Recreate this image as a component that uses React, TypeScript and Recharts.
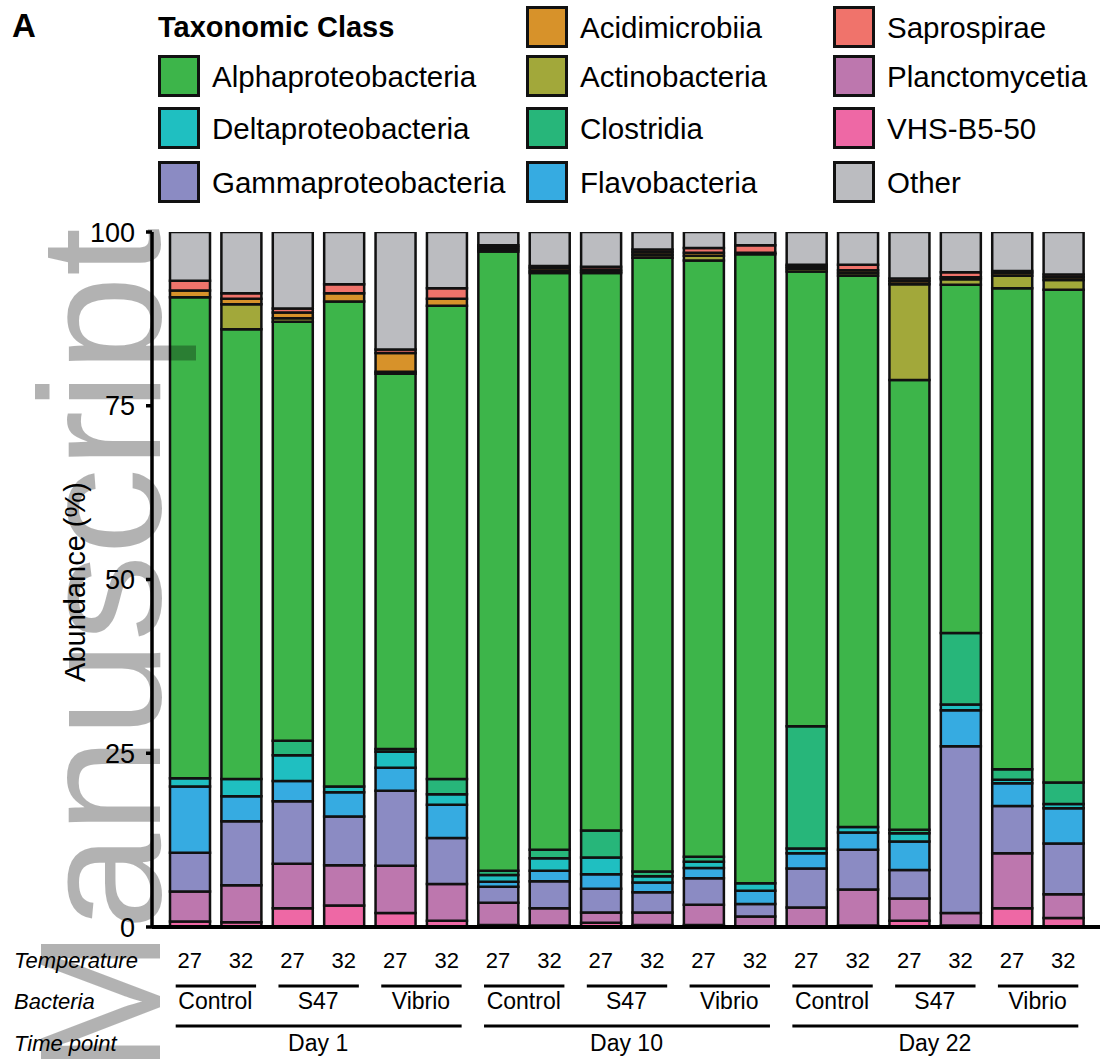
import { BarChart, Bar, XAxis, YAxis } from 'recharts';

// sample labels (18 bars)
const temperature = ['27', '32', '27', '32', '27', '32', '27', '32', '27', '32', '27', '32', '27', '32', '27', '32', '27', '32'];
const bacteria = ['Control', 'Control', 'S47', 'S47', 'Vibrio', 'Vibrio', 'Control', 'Control', 'S47', 'S47', 'Vibrio', 'Vibrio', 'Control', 'Control', 'S47', 'S47', 'Vibrio', 'Vibrio'];
const timePoint = ['Day 1', 'Day 1', 'Day 1', 'Day 1', 'Day 1', 'Day 1', 'Day 10', 'Day 10', 'Day 10', 'Day 10', 'Day 10', 'Day 10', 'Day 22', 'Day 22', 'Day 22', 'Day 22', 'Day 22', 'Day 22'];

// relative abundance (%) per class, bottom of stack first
const vhsB550 = [0.8, 0.7, 2.7, 3.1, 2.0, 0.9, 0.3, 0.2, 0.6, 0.3, 0.3, 0.1, 0, 0.2, 0.9, 0.2, 2.7, 1.3];
const planctomycetia = [4.3, 5.3, 6.4, 5.8, 6.8, 5.3, 3.2, 2.5, 1.5, 1.8, 2.9, 1.4, 2.8, 5.2, 3.2, 1.8, 7.9, 3.4];
const gammaproteobacteria = [5.6, 9.2, 9.0, 7.0, 10.8, 6.6, 2.3, 3.9, 3.4, 2.9, 3.8, 1.8, 5.6, 5.7, 4.1, 24.0, 6.8, 7.3];
const flavobacteria = [9.5, 3.6, 2.9, 3.5, 3.3, 4.8, 0.7, 1.5, 2.1, 1.4, 1.5, 1.9, 2.2, 2.5, 4.1, 5.2, 3.3, 5.1];
const deltaproteobacteria = [1.2, 2.5, 3.7, 0.8, 2.3, 1.5, 1.0, 1.8, 2.4, 0.9, 0.9, 1.1, 0.7, 0.8, 1.2, 0.8, 0.5, 0.6];
const clostridia = [0, 0, 2.1, 0, 0.4, 2.2, 0.6, 1.2, 3.9, 0.7, 0.7, 0, 17.6, 0, 0.5, 10.3, 1.5, 3.1];
const alphaproteobacteria = [69.2, 64.7, 60.3, 69.8, 54.0, 68.1, 89.1, 83.0, 80.2, 88.3, 85.8, 90.5, 65.4, 79.3, 64.7, 50.1, 69.2, 70.9];
const actinobacteria = [0, 3.6, 0.5, 0, 0.3, 0, 0.3, 0.3, 0.2, 0.4, 0.7, 0, 0.4, 0.4, 13.8, 0.8, 1.8, 1.4];
const acidimicrobiia = [1.0, 0.8, 0.8, 1.2, 2.7, 1.0, 0.3, 0.4, 0.3, 0.4, 0.4, 0.2, 0.3, 0.4, 0.4, 0.3, 0.4, 0.4];
const saprospirae = [1.4, 0.8, 0.6, 1.3, 0.5, 1.5, 0.3, 0.3, 0.4, 0.4, 0.7, 1.1, 0.3, 0.8, 0.4, 0.7, 0.3, 0.4];
const other = [7.0, 8.8, 11.0, 7.5, 16.9, 8.1, 1.9, 4.9, 5.0, 2.5, 2.3, 1.9, 4.7, 4.7, 6.7, 5.8, 5.6, 6.1];

const yTicks = [0, 25, 50, 75, 100];

const SERIES = [
  { key: 'vhs', name: 'VHS-B5-50', color: '#ee68a5', values: vhsB550 },
  { key: 'planc', name: 'Planctomycetia', color: '#bd77ae', values: planctomycetia },
  { key: 'gamma', name: 'Gammaproteobacteria', color: '#8b8bc3', values: gammaproteobacteria },
  { key: 'flavo', name: 'Flavobacteria', color: '#36abe1', values: flavobacteria },
  { key: 'delta', name: 'Deltaproteobacteria', color: '#1fbfc1', values: deltaproteobacteria },
  { key: 'clost', name: 'Clostridia', color: '#27b67a', values: clostridia },
  { key: 'alpha', name: 'Alphaproteobacteria', color: '#3db54a', values: alphaproteobacteria },
  { key: 'actino', name: 'Actinobacteria', color: '#a2a83a', values: actinobacteria },
  { key: 'acidi', name: 'Acidimicrobiia', color: '#d7922a', values: acidimicrobiia },
  { key: 'sapro', name: 'Saprospirae', color: '#f0736b', values: saprospirae },
  { key: 'other', name: 'Other', color: '#bbbcc0', values: other },
];

// legend columns as laid out in the figure
const legendColumns = [
  [null, 'alpha', 'delta', 'gamma'],
  ['acidi', 'actino', 'clost', 'flavo'],
  ['sapro', 'planc', 'vhs', 'other'],
];

const data = temperature.map((t, i) => {
  const row: Record<string, string | number> = { id: `s${i}`, temp: t };
  SERIES.forEach((s) => { row[s.key] = s.values[i]; });
  return row;
});

const FONT = '"Liberation Sans", Arial, Helvetica, sans-serif';
const W = 1102;
const H = 1059;
const PLOT_LEFT = 152;
const PLOT_RIGHT = 1100;
const PAD_L = 12;
const PAD_R = 11;
const STEP = (PLOT_RIGHT - PLOT_LEFT - PAD_L - PAD_R) / data.length;

function GroupTick(props: any) {
  const { x, index } = props;
  return (
    <g fontFamily={FONT} fill="#000">
      <text x={x} y={968} textAnchor="middle" fontSize={22}>{temperature[index]}</text>
      {index % 2 === 0 && (
        <g>
          <line x1={x - 14} x2={x + STEP + 15} y1={986} y2={986} stroke="#000" strokeWidth={3} />
          <text x={x + STEP / 2} y={1009} textAnchor="middle" fontSize={23}>{bacteria[index]}</text>
        </g>
      )}
      {index % 6 === 0 && (
        <g>
          <line x1={x - 14} x2={x + 5 * STEP + 15} y1={1026} y2={1026} stroke="#000" strokeWidth={3} />
          <text x={x + 2.5 * STEP} y={1051} textAnchor="middle" fontSize={23}>{timePoint[index]}</text>
        </g>
      )}
    </g>
  );
}

export default function App() {
  const legendX = [158, 526, 833];
  const legendRowY = [27, 76, 128, 182];

  return (
    <div style={{ position: 'absolute', left: 0, top: 0, width: W, height: H, background: '#fff', fontFamily: FONT }}>
      <BarChart
        width={W}
        height={H}
        data={data}
        margin={{ top: 232, right: W - PLOT_RIGHT, bottom: 32, left: 92 }}
        barSize={40}
      >
        <XAxis
          dataKey="id"
          interval={0}
          height={100}
          padding={{ left: PAD_L, right: PAD_R }}
          axisLine={{ stroke: '#000', strokeWidth: 4 }}
          tickLine={false}
          tick={<GroupTick />}
        />
        <YAxis
          width={60}
          domain={[0, 100]}
          ticks={yTicks}
          allowDataOverflow
          axisLine={{ stroke: '#000', strokeWidth: 3.5 }}
          tickLine={{ stroke: '#000', strokeWidth: 3.5 }}
          tickSize={6}
          tickMargin={11}
          tick={{ fill: '#000', fontSize: 27, fontFamily: FONT }}
        />
        {SERIES.map((s) => (
          <Bar
            key={s.key}
            dataKey={s.key}
            name={s.name}
            stackId="a"
            fill={s.color}
            stroke="#111"
            strokeWidth={2.5}
            isAnimationActive={false}
          />
        ))}
      </BarChart>

      <svg width={W} height={H} style={{ position: 'absolute', left: 0, top: 0, pointerEvents: 'none' }}>
        <g fontFamily={FONT} fill="#000">
          <text x={12} y={37} fontSize={33} fontWeight="bold">A</text>
          <text x={158} y={37} fontSize={29} fontWeight="bold">Taxonomic Class</text>
          {legendColumns.map((col, ci) =>
            col.map((key, ri) => {
              if (!key) return null;
              const s = SERIES.find((d) => d.key === key)!;
              const cy = legendRowY[ri];
              return (
                <g key={key}>
                  <rect x={legendX[ci] + 1.5} y={cy - 19.5} width={39} height={39} fill={s.color} stroke="#111" strokeWidth={3} />
                  <text x={legendX[ci] + 54} y={cy + 10.5} fontSize={29.5}>{s.name}</text>
                </g>
              );
            })
          )}
          <text transform="translate(85,582) rotate(-90)" textAnchor="middle" fontSize={29}>Abundance (%)</text>
          <g fontStyle="italic" fontSize={22}>
            <text x={14} y={968}>Temperature</text>
            <text x={14} y={1009}>Bacteria</text>
            <text x={14} y={1051}>Time point</text>
          </g>
        </g>
        <text
          transform="translate(160,1074) rotate(-90)"
          fontFamily={FONT}
          fontSize={173}
          fill="#000"
          fillOpacity={0.3}
        >
          Manuscript
        </text>
      </svg>
    </div>
  );
}
